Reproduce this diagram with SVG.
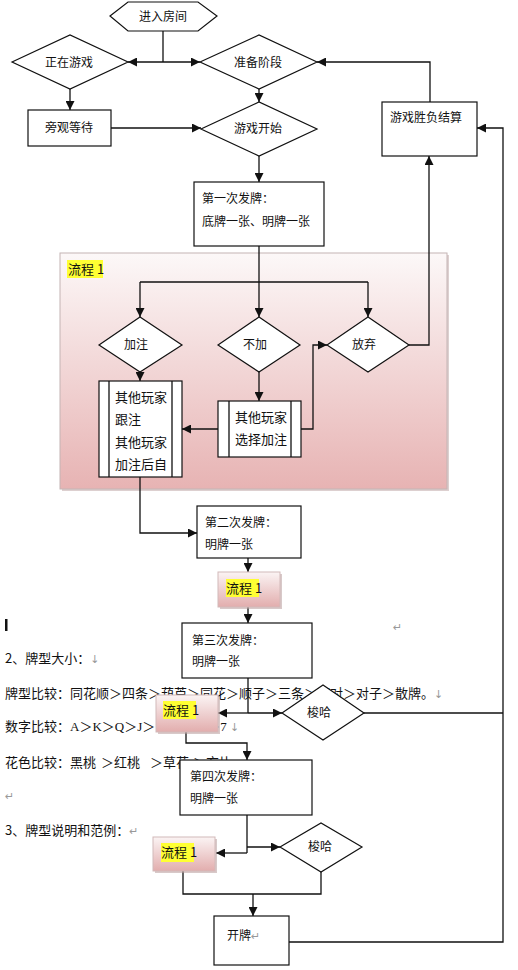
<svg xmlns="http://www.w3.org/2000/svg" width="518" height="970" viewBox="0 0 518 970">
<style>
.bg{fill:#ffffff}
.doc{font-family:"Noto Sans CJK SC","Noto Sans",sans-serif;font-size:13px;fill:#111}
.docs{font-family:"Liberation Serif","Noto Sans CJK SC",serif;font-size:13px;fill:#111}
.gray{font-family:"DejaVu Sans",sans-serif;font-size:11px;fill:#999}
.t{font-family:"Noto Sans CJK SC","Noto Sans",sans-serif;font-size:12px;fill:#111}
.tb{font-family:"Noto Sans CJK SC","Noto Sans",sans-serif;font-size:13px;fill:#111}
.shape{fill:#ffffff;stroke:#111;stroke-width:1.2}
.line{fill:none;stroke:#111;stroke-width:1.3}
.arr{fill:none;stroke:#111;stroke-width:1.3;marker-end:url(#ah)}
.sub{fill:url(#pinkbox);stroke:#d2b9b9;stroke-width:1}
.shadow{fill:#b89c9c;opacity:0.55}
.hl{fill:#ffff33}
</style>
<defs>
<marker id="ah" viewBox="0 0 10 10" refX="10" refY="5" markerWidth="9" markerHeight="9" markerUnits="userSpaceOnUse" orient="auto">
<path d="M0,0 L10,5 L0,10 z" fill="#111"/>
</marker>
<linearGradient id="pinkpanel" x1="0" y1="0" x2="0" y2="1">
<stop offset="0" stop-color="#fcf8f8"/>
<stop offset="1" stop-color="#e7b3b3"/>
</linearGradient>
<linearGradient id="pinkbox" x1="0" y1="0" x2="0" y2="1">
<stop offset="0" stop-color="#fbf4f4"/>
<stop offset="1" stop-color="#e2adad"/>
</linearGradient>
</defs>
<rect class="bg" x="0" y="0" width="518" height="970"/>

<g id="doc-text">
<rect x="5" y="619" width="2.5" height="12" fill="#111"/>
<text class="gray" x="393" y="631">↵</text>
<text class="doc" x="5" y="663">2、牌型大小：<tspan class="gray">↓</tspan></text>
<text class="doc" x="5" y="698">牌型比较：同花顺＞四条＞葫芦＞同花＞顺子＞三条＞两对＞对子＞散牌。<tspan class="gray">↓</tspan></text>
<text class="docs" x="5" y="731">数字比较：A＞K＞Q＞J＞10＞9＞8＞7 <tspan class="gray">↓</tspan></text>
<text class="doc" x="5" y="767">花色比较：黑桃<tspan x="101">＞红桃</tspan><tspan x="150">＞草花</tspan><tspan x="193">＞方片</tspan></text>
<text class="gray" x="5" y="800">↵</text>
<text class="doc" x="5" y="835">3、牌型说明和范例：<tspan class="gray">↵</tspan></text>
</g>

<g id="panel-flow1">
<rect x="62" y="255" width="387" height="236" fill="#c7b0b0" opacity="0.6"/>
<rect x="60" y="253" width="387" height="236" fill="url(#pinkpanel)" stroke="#c4b4b4" stroke-width="1"/>
<rect class="hl" x="67" y="260" width="36" height="18"/>
<text class="tb" x="68" y="274">流程 1</text>
</g>

<g id="connectors">
<path class="line" d="M163,31 V62"/>
<path class="arr" d="M163,62 H128"/>
<path class="arr" d="M163,62 H200"/>
<path class="arr" d="M70,89 V110"/>
<path class="arr" d="M111,128 H201"/>
<path class="arr" d="M259,89 V102"/>
<path class="arr" d="M259,156 V182"/>
<path class="arr" d="M430,102 V62 H317"/>
<path class="arr" d="M259,246 V317"/>
<path class="line" d="M140,282 H368"/>
<path class="arr" d="M140,282 V317"/>
<path class="arr" d="M368,282 V317"/>
<path class="arr" d="M409,345 H429 V156"/>
<path class="arr" d="M140,372 V381"/>
<path class="arr" d="M259,372 V401"/>
<path class="arr" d="M218,429 H182"/>
<path class="arr" d="M301,429 H313 V345 H327"/>
<path class="arr" d="M140,477 V533 H197"/>
<path class="arr" d="M248,558 V572"/>
<path class="arr" d="M248,607 V623"/>
<path class="line" d="M248,678 V713"/>
<path class="arr" d="M248,713 H218"/>
<path class="arr" d="M248,713 H282"/>
<path class="line" d="M364,713 H503"/>
<path class="arr" d="M186,732 V743 H247 V760"/>
<path class="line" d="M247,815 V853"/>
<path class="arr" d="M247,853 H216"/>
<path class="arr" d="M247,847 H280"/>
<path class="line" d="M183,871 V894 H321 V872"/>
<path class="arr" d="M253,894 V916"/>
<path class="arr" d="M289,942 H503 V128 H477"/>
</g>

<g id="node-enter">
<polygon class="shape" points="110,16 128,2 198,2 217,16 198,31 128,31"/>
<text class="t" x="139" y="21">进入房间</text>
</g>
<g id="node-playing">
<polygon class="shape" points="12,62 70,35 128,62 70,89"/>
<text class="t" x="45" y="67">正在游戏</text>
</g>
<g id="node-ready">
<polygon class="shape" points="200,62 259,35 317,62 259,89"/>
<text class="t" x="234" y="67">准备阶段</text>
</g>
<g id="node-watch">
<rect class="shape" x="28" y="110" width="83" height="36"/>
<text class="t" x="45" y="132">旁观等待</text>
</g>
<g id="node-start">
<polygon class="shape" points="201,129 259,102 317,129 259,156"/>
<text class="t" x="234" y="133">游戏开始</text>
</g>
<g id="node-settle">
<rect class="shape" x="382" y="102" width="95" height="54"/>
<text class="t" x="390" y="122">游戏胜负结算</text>
</g>
<g id="node-deal1">
<rect class="shape" x="194" y="182" width="130" height="64"/>
<text class="t" x="202" y="203">第一次发牌：</text>
<text class="t" x="202" y="226">底牌一张、明牌一张</text>
</g>
<g id="node-raise">
<polygon class="shape" points="99,345 140,317 182,345 140,372"/>
<text class="t" x="124" y="349">加注</text>
</g>
<g id="node-noraise">
<polygon class="shape" points="218,345 259,317 300,345 259,372"/>
<text class="t" x="243" y="349">不加</text>
</g>
<g id="node-fold">
<polygon class="shape" points="327,345 368,317 409,345 368,372"/>
<text class="t" x="352" y="349">放弃</text>
</g>
<g id="node-follow">
<rect class="shape" x="99" y="381" width="83" height="96"/>
<path class="line" d="M109,381 V477 M172,381 V477" stroke-width="1.1"/>
<text class="tb" x="115" y="402">其他玩家</text>
<text class="tb" x="115" y="424">跟注</text>
<text class="tb" x="115" y="447">其他玩家</text>
<text class="tb" x="115" y="469">加注后自</text>
</g>
<g id="node-choose">
<rect class="shape" x="218" y="401" width="83" height="56"/>
<path class="line" d="M229,401 V457 M291,401 V457" stroke-width="1.1"/>
<text class="tb" x="235" y="422">其他玩家</text>
<text class="tb" x="235" y="444">选择加注</text>
</g>
<g id="node-deal2">
<rect class="shape" x="197" y="506" width="104" height="52"/>
<text class="t" x="205" y="527">第二次发牌：</text>
<text class="t" x="205" y="549">明牌一张</text>
</g>
<g id="node-flow1-a">
<rect class="shadow" x="220" y="574" width="62" height="35"/>
<rect class="sub" x="218" y="572" width="62" height="35"/>
<rect class="hl" x="226" y="579" width="33" height="18"/>
<text class="tb" x="226" y="593">流程 1</text>
</g>
<g id="node-deal3">
<rect class="shape" x="182" y="623" width="130" height="55"/>
<text class="t" x="192" y="645">第三次发牌：</text>
<text class="t" x="192" y="666">明牌一张</text>
</g>
<g id="node-flow1-b">
<rect class="shadow" x="158" y="697" width="62" height="37"/>
<rect class="sub" x="156" y="695" width="62" height="37"/>
<rect class="hl" x="163" y="701" width="33" height="18"/>
<text class="tb" x="163" y="715">流程 1</text>
</g>
<g id="node-showhand1">
<polygon class="shape" points="282,713 323,685 364,713 323,740"/>
<text class="t" x="307" y="717">梭哈</text>
</g>
<g id="node-deal4">
<rect class="shape" x="180" y="760" width="132" height="55"/>
<text class="t" x="190" y="781">第四次发牌：</text>
<text class="t" x="190" y="803">明牌一张</text>
</g>
<g id="node-flow1-c">
<rect class="shadow" x="155" y="839" width="62" height="34"/>
<rect class="sub" x="153" y="837" width="62" height="34"/>
<rect class="hl" x="161" y="843" width="33" height="19"/>
<text class="tb" x="161" y="857">流程 1</text>
</g>
<g id="node-showhand2">
<polygon class="shape" points="280,847 321,823 362,847 321,872"/>
<text class="t" x="308" y="851">梭哈</text>
</g>
<g id="node-open">
<rect class="shape" x="214" y="916" width="75" height="49"/>
<text class="t" x="227" y="940">开牌<tspan class="gray">↵</tspan></text>
</g>
</svg>
